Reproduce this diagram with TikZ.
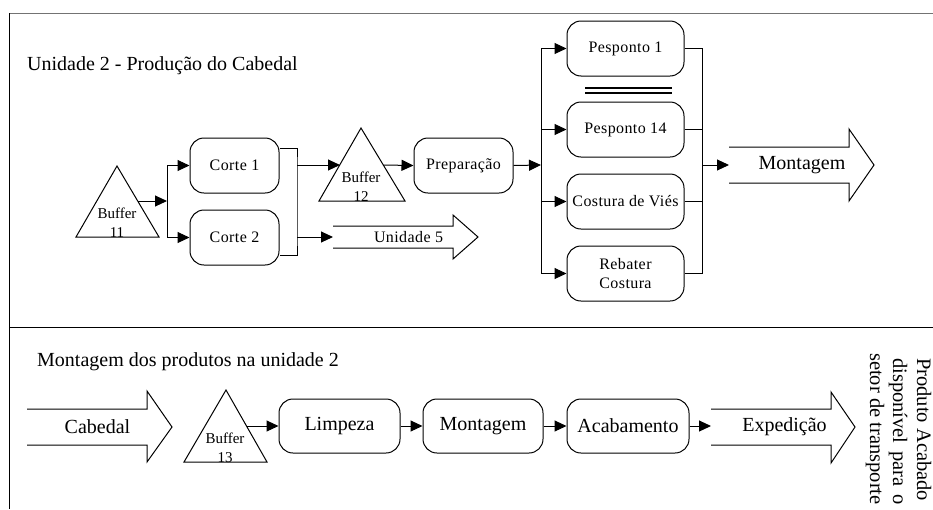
\documentclass[tikz,border=0pt]{standalone}
\usepackage{fontspec}
\setmainfont{Liberation Serif}
\newfontfamily\spacedserif[LetterSpace=2.5]{Liberation Serif}
\usetikzlibrary{arrows.meta}

% font sizes (1pt in the picture = one unit of the coordinate grid)
\newcommand\smallfnt{\fontsize{16}{19}\selectfont\spacedserif}
\newcommand\bufffnt{\fontsize{15}{19}\selectfont}
\newcommand\bigfnt{\fontsize{20}{24}\selectfont}
\newcommand\sidefnt{\fontsize{20.5}{24}\selectfont}

\tikzset{
  ln/.style={line width=1pt},
  arr/.style={line width=1pt, -{Triangle[length=12pt,width=11pt]}},
  proc/.style={draw, line width=1pt, rounded corners=14pt, inner sep=0pt,
               minimum height=55pt, align=center, font=\smallfnt},
  procbig/.style={draw, line width=1pt, rounded corners=14pt, inner sep=0pt,
               minimum height=54pt, align=center, font=\bigfnt},
  bufftri/.style={line width=1pt, line join=miter},
  bufftxt/.style={align=center, inner sep=0pt, font=\bufffnt},
  bigarrow/.style={line width=1pt, line join=miter},
  title/.style={anchor=west, inner sep=0pt, font=\bigfnt},
}

\begin{document}
\begin{tikzpicture}[x=1pt, y=-1pt]
\useasboundingbox (0,0) rectangle (933,509);

% ---- frame ----
\draw[line width=1pt, black!55] (9.5,13) -- (933,13);
\draw[ln] (9.5,13) -- (9.5,509);
\draw[ln] (9.5,327) -- (933,327);

% =============== Unidade 2 - Produção do Cabedal ===============
\node[title] (t1) at (27,66) {Unidade 2 - Produção do Cabedal};

% Buffer 11
\draw[bufftri] (117,166) -- (159,237) -- (76,237) -- cycle;
\node[bufftxt] (b11) at (117,222.5) {Buffer\\11};
\coordinate (b11out) at (138,201);
\coordinate (split11) at (167,201);

% Corte 1 / Corte 2
\node[proc, minimum width=89pt] (c1) at (234.5,165.5) {Corte 1};
\node[proc, minimum width=89pt] (c2) at (234.5,237.5) {Corte 2};

\draw[arr] (b11out) -- (split11);
\draw[arr] (split11) |- (c1.west);
\draw[arr] (split11) |- (c2.west);

% Join of the two cuts
\coordinate (cj1) at (297,165);
\coordinate (cj2) at (297,237);
\draw[ln] ([yshift=17.5pt]c1.east) -| (cj1) -- (cj2) |- ([yshift=-17.5pt]c2.east);

% Buffer 12
\draw[bufftri] (361,128) -- (405,201) -- (319,201) -- cycle;
\node[bufftxt] (b12) at (361,187) {Buffer\\12};
\coordinate (b12in) at (340,165);
\coordinate (b12out) at (383,165);

% Preparação
\node[proc, minimum width=99pt] (prep) at (463.5,165.5) {Preparação};

\draw[arr] (cj1) -- (b12in);
\draw[arr] (b12out) -- (prep.west);

% Unidade 5 (open block arrow)
\draw[bigarrow] (333,226) -- (453,226) -- (453,215) -- (478,237)
                -- (453,259) -- (453,248) -- (333,248);
\node[inner sep=0pt, font=\smallfnt] (u5) at (408.5,237) {Unidade 5};
\coordinate (u5tail) at (333,237);
\draw[arr] (cj2) -- (u5tail);

% Pesponto / costura stations
\node[proc, minimum width=117pt] (p1)  at (625.5,48.5)  {Pesponto 1};
\node[proc, minimum width=117pt] (p14) at (625.5,129.5) {Pesponto 14};
\node[proc, minimum width=117pt] (cv)  at (625.5,201.5) {Costura de Viés};
\node[proc, minimum width=117pt] (rc)  at (625.5,273.5) {Rebater\\Costura};

% double rule between Pesponto 1 and Pesponto 14
\draw[line width=1.2pt] (585,88) -- (672,88);
\draw[line width=1.2pt] (585,93) -- (672,93);

\coordinate (bus) at (541,165);
\draw[arr] (prep.east) -- (bus);
\draw[arr] (bus) |- (p1.west);
\draw[arr] (bus) |- (p14.west);
\draw[arr] (bus) |- (cv.west);
\draw[arr] (bus) |- (rc.west);

\coordinate (merge) at (702,165);
\draw[ln] (p1.east)  -| (merge);
\draw[ln] (p14.east) -| (merge);
\draw[ln] (cv.east)  -| (merge);
\draw[ln] (rc.east)  -| (merge);

% Montagem (open block arrow)
\draw[bigarrow] (729,147) -- (849,147) -- (849,129) -- (874,165)
                -- (849,201) -- (849,183) -- (729,183);
\node[inner sep=0pt, font=\bigfnt] (mtop) at (802,165) {Montagem};
\coordinate (mtail) at (729,165);
\draw[arr] (merge) -- (mtail);

% =============== Montagem dos produtos na unidade 2 ===============
\node[title] (t2) at (37,362) {Montagem dos produtos na unidade 2};

% Cabedal (open block arrow)
\draw[bigarrow] (27,409) -- (147,409) -- (147,391) -- (172,427)
                -- (147,462) -- (147,445) -- (27,445);
\node[inner sep=0pt, font=\bigfnt] (cab) at (97.5,427) {Cabedal};

% Buffer 13
\draw[bufftri] (226,390) -- (267,462) -- (184,462) -- cycle;
\node[bufftxt] (b13) at (225,447.5) {Buffer\\13};
\coordinate (b13out) at (247,426);

% Stations
\node[procbig, minimum width=121pt] (limp) at (339.5,426) {Limpeza};
\node[procbig, minimum width=120pt] (mont) at (483,426)   {Montagem};
\node[procbig, minimum width=122pt] (acab) at (628,426)   {Acabamento};

\draw[arr] (b13out) -- (limp.west);
\draw[arr] (limp.east) -- (mont.west);
\draw[arr] (mont.east) -- (acab.west);

% Expedição (open block arrow)
\draw[bigarrow] (711,409) -- (831,409) -- (831,392) -- (855,427)
                -- (831,463) -- (831,445) -- (711,445);
\node[inner sep=0pt, font=\bigfnt] (exp) at (784.5,427) {Expedição};
\coordinate (exptail) at (711,426);
\draw[arr] (acab.east) -- (exptail);

% Vertical side note
\node[rotate=-90, anchor=base west, inner sep=0pt, font=\sidefnt] (s1) at (917,358) {Produto Acabado};
\node[rotate=-90, anchor=base west, inner sep=0pt, font=\sidefnt] (s2) at (893,358) {\makebox[147pt][s]{disponível para o}};
\node[rotate=-90, anchor=base west, inner sep=0pt, font=\sidefnt] (s3) at (870,353) {setor de transporte};
\end{tikzpicture}
\end{document}
